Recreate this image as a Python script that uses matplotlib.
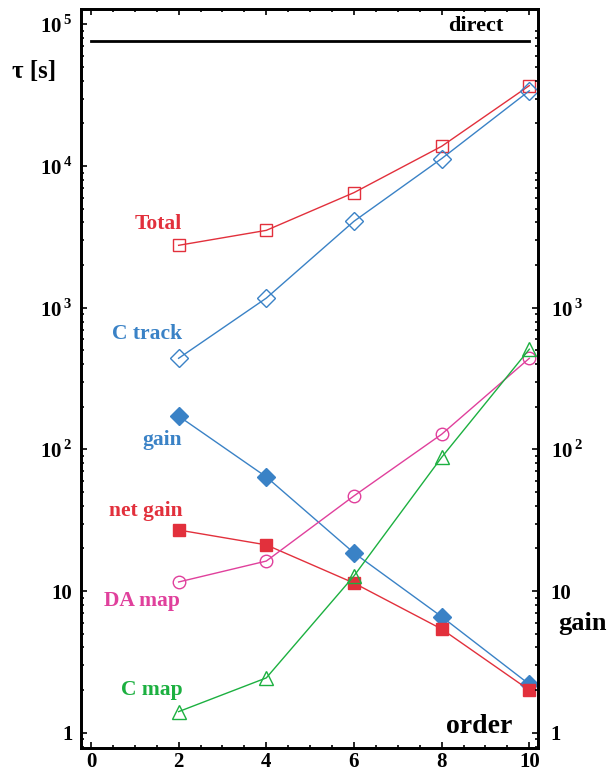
import numpy as np
import matplotlib
matplotlib.use("Agg")
import matplotlib.pyplot as plt
from matplotlib.ticker import FixedLocator, FixedFormatter, LogLocator, NullFormatter, MultipleLocator

plt.rcParams['font.family'] = ['Liberation Serif', 'DejaVu Serif']
plt.rcParams['font.weight'] = 'bold'
plt.rcParams['mathtext.fontset'] = 'custom'
plt.rcParams['mathtext.rm'] = 'Liberation Serif:bold'
plt.rcParams['mathtext.bf'] = 'Liberation Serif:bold'

# expansion order and timings / gains
order = [2, 4, 6, 8, 10]
total = [2760, 3520, 6500, 13800, 37000]
c_track = [440, 1170, 4080, 11300, 34000]
gain = [172, 64, 18.6, 6.6, 2.2]
net_gain = [27, 21.2, 11.4, 5.4, 2.0]
da_map = [11.6, 16.3, 47, 128, 440]
c_map = [1.41, 2.44, 12.8, 88, 510]
direct = 75900

red = '#e2303c'
blue = '#3a82c6'
magenta = '#e0409c'
green = '#1cb040'

fig = plt.figure(figsize=(6.08, 7.72), dpi=100)
ax = fig.add_axes([0.133, 0.031, 0.752, 0.957])

lw = 1.0
ax.plot(order, total, '-s', color=red, mfc='none', ms=9, mew=1.0, lw=lw)
ax.plot(order, c_track, '-D', color=blue, mfc='none', ms=9, mew=1.0, lw=lw)
ax.plot(order, gain, '-D', color=blue, ms=9, lw=lw)
ax.plot(order, net_gain, '-s', color=red, ms=9, lw=lw)
ax.plot(order, da_map, '-o', color=magenta, mfc='none', ms=9, mew=1.0, lw=lw)
ax.plot(order, c_map, '-^', color=green, mfc='none', ms=10, mew=1.0, lw=lw)
ax.plot([0, 10], [direct, direct], '-', color='black', lw=2)

ax.set_yscale('log')
ax.set_xlim(-0.23, 10.2)
ax.set_ylim(0.78, 1.28e5)

ax.xaxis.set_major_locator(MultipleLocator(2))
ax.xaxis.set_minor_locator(MultipleLocator(0.5))
ax.yaxis.set_major_locator(FixedLocator([1, 10, 1e2, 1e3, 1e4, 1e5]))
ax.yaxis.set_major_formatter(FixedFormatter(
    ['1', '10', r'$10^{\,2}$', r'$10^{\,3}$', r'$10^{\,4}$', r'$10^{\,5}$']))
ax.yaxis.set_minor_locator(LogLocator(base=10, subs=np.arange(2, 10), numticks=20))
ax.yaxis.set_minor_formatter(NullFormatter())

ax.tick_params(which='both', direction='in', top=True, right=True, width=1.2)
ax.tick_params(which='major', length=4, labelsize=15)
ax.tick_params(which='minor', length=2.5)
ax.tick_params(axis='x', which='major', pad=3)
ax.tick_params(axis='y', which='major', pad=6)
for s in ax.spines.values():
    s.set_linewidth(2)

# right-hand gain scale, labelled only up to 10^3
ax2 = ax.twinx()
ax2.set_yscale('log')
ax2.set_ylim(ax.get_ylim())
ax2.yaxis.set_major_locator(FixedLocator([1, 10, 1e2, 1e3]))
ax2.yaxis.set_major_formatter(FixedFormatter(['1', '10', r'$10^{\,2}$', r'$10^{\,3}$']))
ax2.yaxis.set_minor_locator(LogLocator(base=10, subs=np.arange(2, 10), numticks=20))
ax2.yaxis.set_minor_formatter(NullFormatter())
ax2.tick_params(which='both', direction='in', width=1.2)
ax2.tick_params(which='major', length=4, labelsize=15, pad=9)
ax2.tick_params(which='minor', length=2.5)
for s in ax2.spines.values():
    s.set_linewidth(2)

fs = 15.5
lx = 2.08
ax.text(lx, 3890, 'Total', color=red, fontsize=fs, ha='right', va='center')
ax.text(lx, 651, 'C track', color=blue, fontsize=fs, ha='right', va='center')
ax.text(lx, 117, 'gain', color=blue, fontsize=fs, ha='right', va='center')
ax.text(lx, 36.8, 'net gain', color=red, fontsize=fs, ha='right', va='center')
ax.text(lx - 0.05, 8.5, 'DA map', color=magenta, fontsize=fs, ha='right', va='center')
ax.text(lx, 2.0, 'C map', color=green, fontsize=fs, ha='right', va='center')
ax.text(9.41, 96800, 'direct', color='black', fontsize=16, ha='right', va='center')
ax.text(9.61, 1.10, 'order', color='black', fontsize=20, ha='right', va='center')
fig.text(0.056, 0.908, 'τ [s]', fontsize=18, ha='center', va='center')
fig.text(0.958, 0.193, 'gain', fontsize=19, ha='center', va='center')

fig.savefig('out.png', dpi=100)
